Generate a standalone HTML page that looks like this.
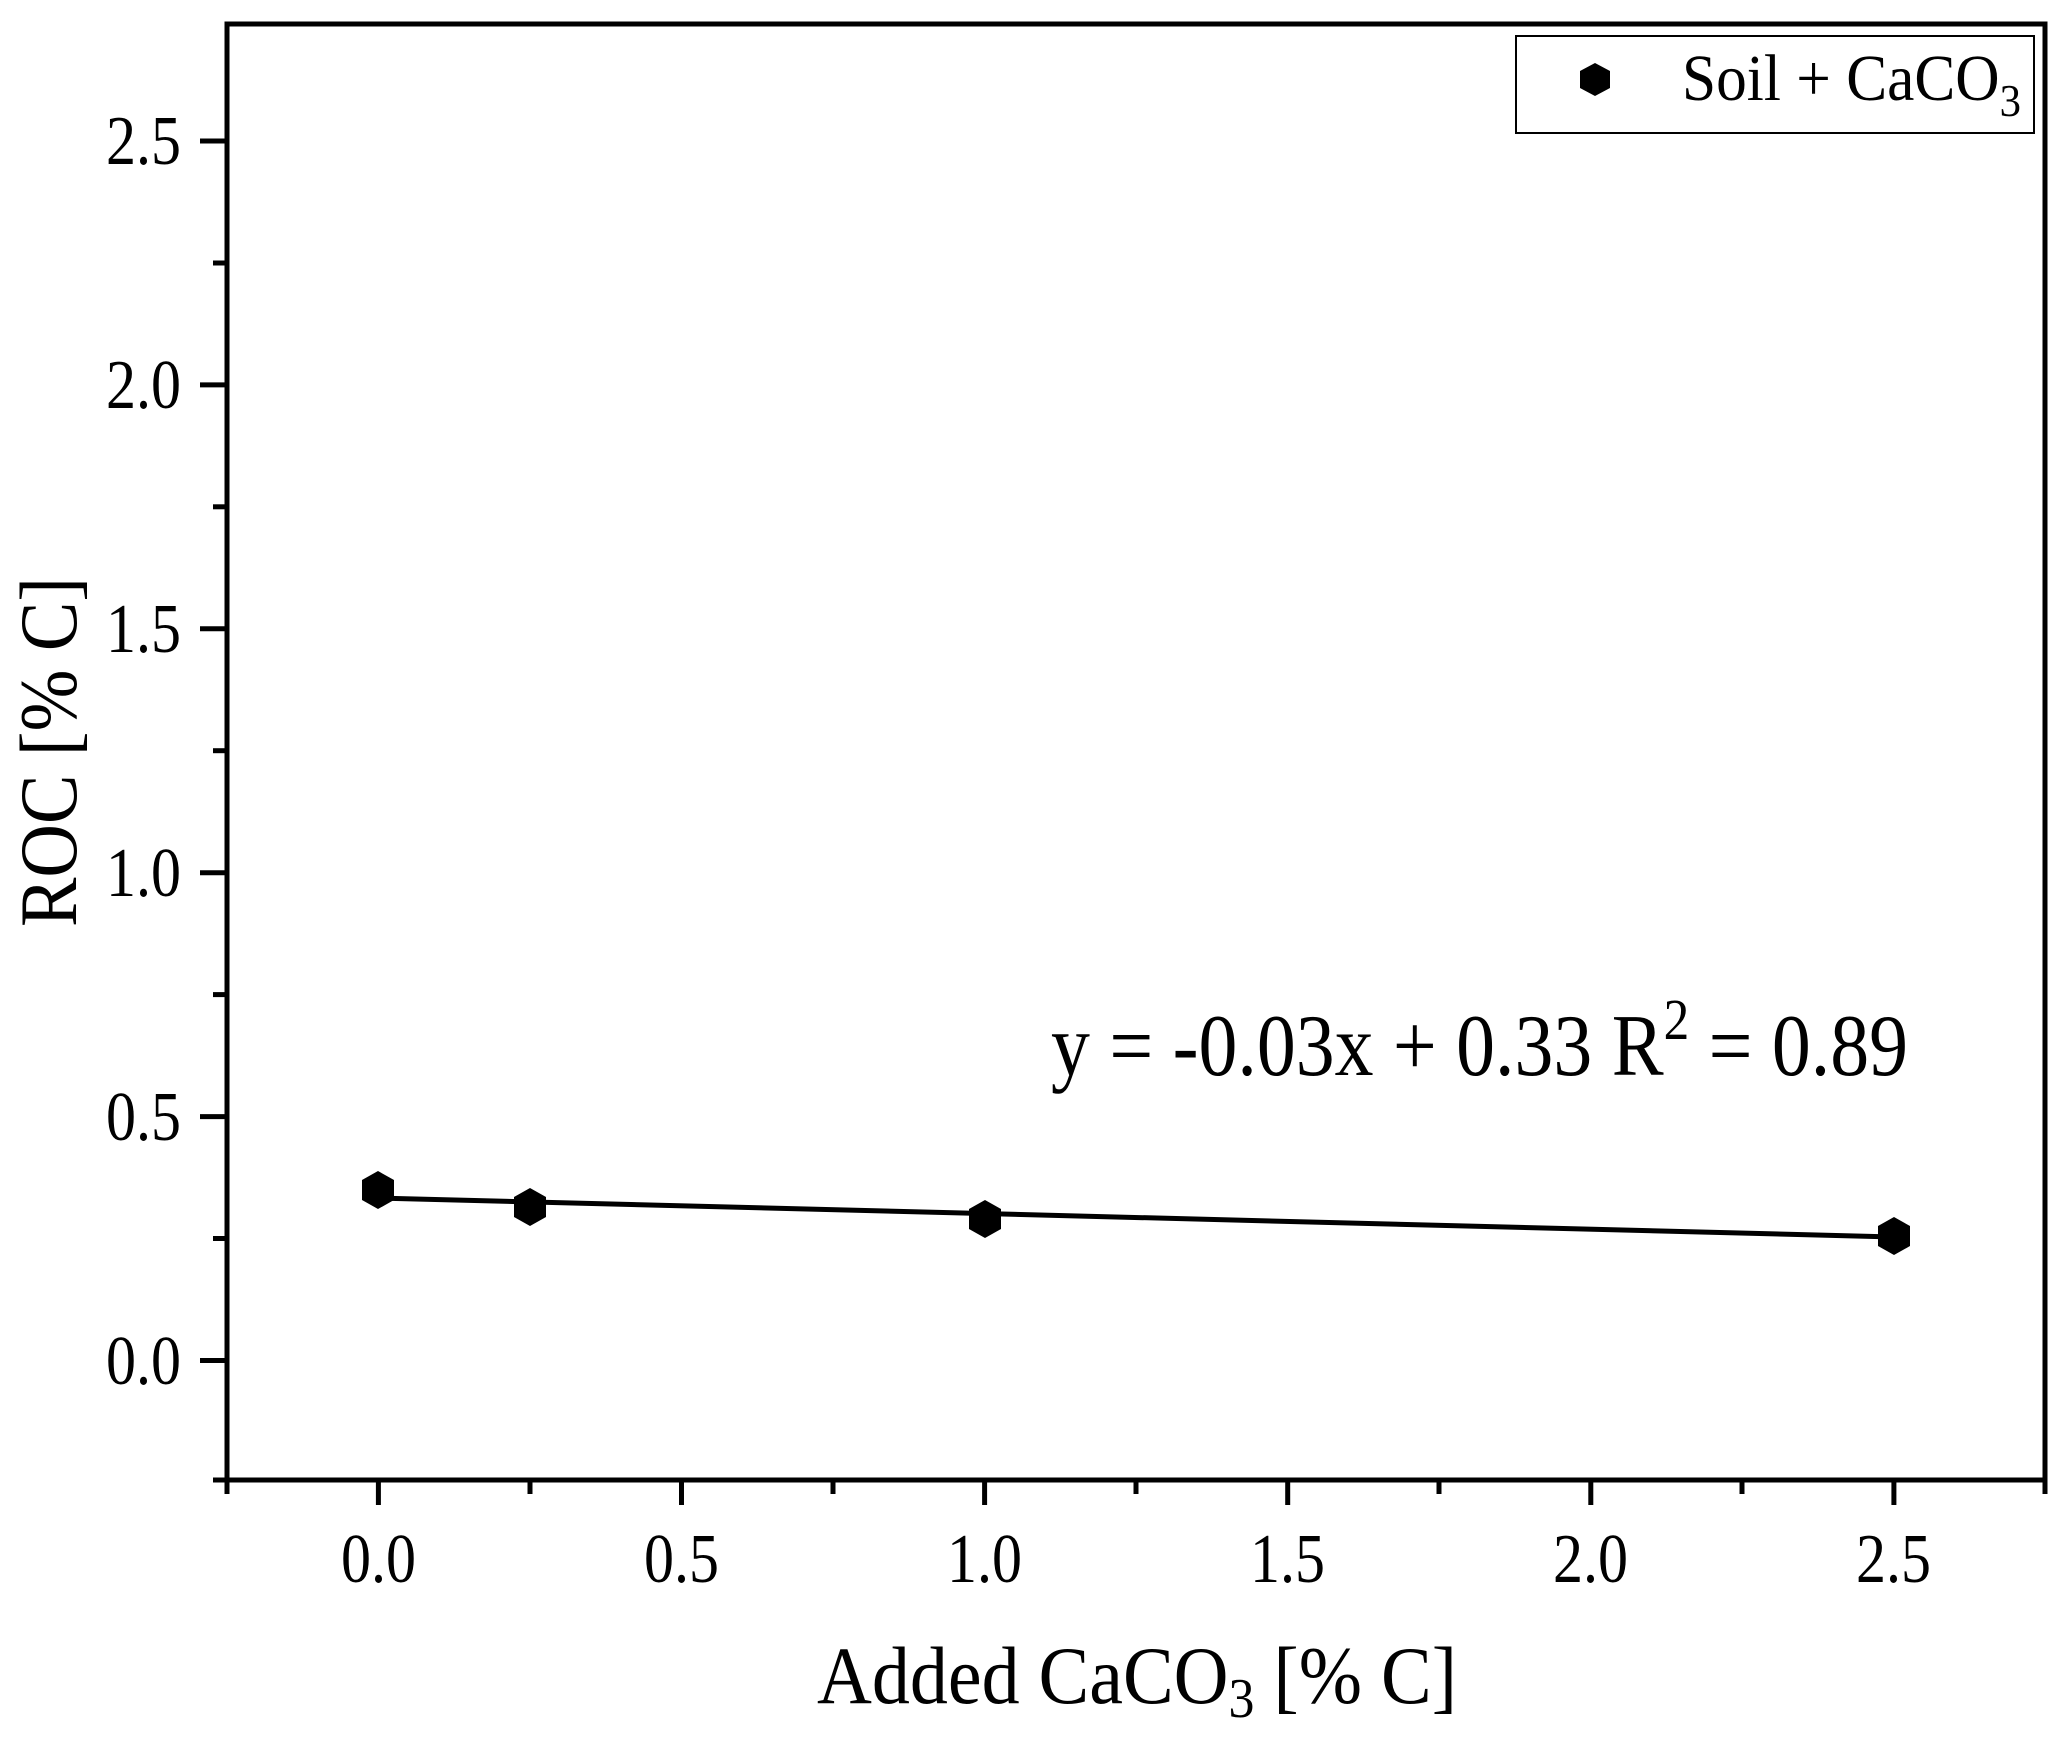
<!DOCTYPE html>
<html><head><style>body{margin:0;background:#fff}svg{display:block}</style></head>
<body>
<svg width="2067" height="1738" viewBox="0 0 2067 1738" xmlns="http://www.w3.org/2000/svg" font-family="Liberation Serif, serif" fill="#000">
<rect width="2067" height="1738" fill="#fff"/>
<rect x="227" y="24" width="1818" height="1456" fill="none" stroke="#000" stroke-width="5"/>
<g stroke="#000" stroke-width="5">
<line x1="200" y1="1360.5" x2="227" y2="1360.5"/>
<line x1="200" y1="1116.6" x2="227" y2="1116.6"/>
<line x1="200" y1="872.7" x2="227" y2="872.7"/>
<line x1="200" y1="628.8" x2="227" y2="628.8"/>
<line x1="200" y1="384.9" x2="227" y2="384.9"/>
<line x1="200" y1="141" x2="227" y2="141"/>
<line x1="213" y1="1238.5" x2="227" y2="1238.5"/>
<line x1="213" y1="994.6" x2="227" y2="994.6"/>
<line x1="213" y1="750.7" x2="227" y2="750.7"/>
<line x1="213" y1="506.8" x2="227" y2="506.8"/>
<line x1="213" y1="263" x2="227" y2="263"/>
<line x1="213" y1="1480" x2="227" y2="1480"/>
<line x1="378.4" y1="1480" x2="378.4" y2="1505"/>
<line x1="681.5" y1="1480" x2="681.5" y2="1505"/>
<line x1="984.6" y1="1480" x2="984.6" y2="1505"/>
<line x1="1287.7" y1="1480" x2="1287.7" y2="1505"/>
<line x1="1590.8" y1="1480" x2="1590.8" y2="1505"/>
<line x1="1893.9" y1="1480" x2="1893.9" y2="1505"/>
<line x1="227" y1="1480" x2="227" y2="1494"/>
<line x1="530" y1="1480" x2="530" y2="1494"/>
<line x1="833" y1="1480" x2="833" y2="1494"/>
<line x1="1136" y1="1480" x2="1136" y2="1494"/>
<line x1="1439" y1="1480" x2="1439" y2="1494"/>
<line x1="1742" y1="1480" x2="1742" y2="1494"/>
<line x1="2045" y1="1480" x2="2045" y2="1494"/>
</g>
<g font-size="70" lengthAdjust="spacingAndGlyphs">
<text x="106" y="1384" textLength="75" lengthAdjust="spacingAndGlyphs">0.0</text>
<text x="106" y="1140" textLength="75" lengthAdjust="spacingAndGlyphs">0.5</text>
<text x="106" y="896" textLength="75" lengthAdjust="spacingAndGlyphs">1.0</text>
<text x="106" y="652" textLength="75" lengthAdjust="spacingAndGlyphs">1.5</text>
<text x="106" y="408" textLength="75" lengthAdjust="spacingAndGlyphs">2.0</text>
<text x="106" y="164" textLength="75" lengthAdjust="spacingAndGlyphs">2.5</text>
<text x="341" y="1582" textLength="75" lengthAdjust="spacingAndGlyphs">0.0</text>
<text x="644" y="1582" textLength="75" lengthAdjust="spacingAndGlyphs">0.5</text>
<text x="947" y="1582" textLength="75" lengthAdjust="spacingAndGlyphs">1.0</text>
<text x="1250" y="1582" textLength="75" lengthAdjust="spacingAndGlyphs">1.5</text>
<text x="1553" y="1582" textLength="75" lengthAdjust="spacingAndGlyphs">2.0</text>
<text x="1856" y="1582" textLength="75" lengthAdjust="spacingAndGlyphs">2.5</text>
</g>
<text x="817" y="1703" font-size="82" textLength="640" lengthAdjust="spacingAndGlyphs">Added CaCO<tspan font-size="56" dy="14">3</tspan><tspan dy="-14"> [% C]</tspan></text>
<text transform="translate(76,927) rotate(-90)" font-size="82" textLength="350" lengthAdjust="spacingAndGlyphs">ROC [% C]</text>
<line x1="378.4" y1="1198" x2="1893.9" y2="1237" stroke="#000" stroke-width="5"/>
<g>
<polygon points="378,1171 394,1180 394,1200 378,1209 362,1200 362,1180"/>
<polygon points="530,1188 546,1197 546,1217 530,1226 514,1217 514,1197"/>
<polygon points="985,1200 1001,1209 1001,1229 985,1238 969,1229 969,1209"/>
<polygon points="1894,1217 1910,1226 1910,1246 1894,1255 1878,1246 1878,1226"/>
</g>
<text x="1051" y="1075" font-size="88" textLength="857" lengthAdjust="spacingAndGlyphs">y = -0.03x + 0.33  R<tspan font-size="58" dy="-36">2</tspan><tspan dy="36"> = 0.89</tspan></text>
<rect x="1516" y="36" width="518" height="97" fill="#fff" stroke="#000" stroke-width="2"/>
<polygon points="1595,63 1610,71 1610,88 1595,96 1580,88 1580,71"/>
<text x="1682" y="100" font-size="66" textLength="339" lengthAdjust="spacingAndGlyphs">Soil + CaCO<tspan font-size="46" dy="16">3</tspan></text>
</svg>
</body></html>
